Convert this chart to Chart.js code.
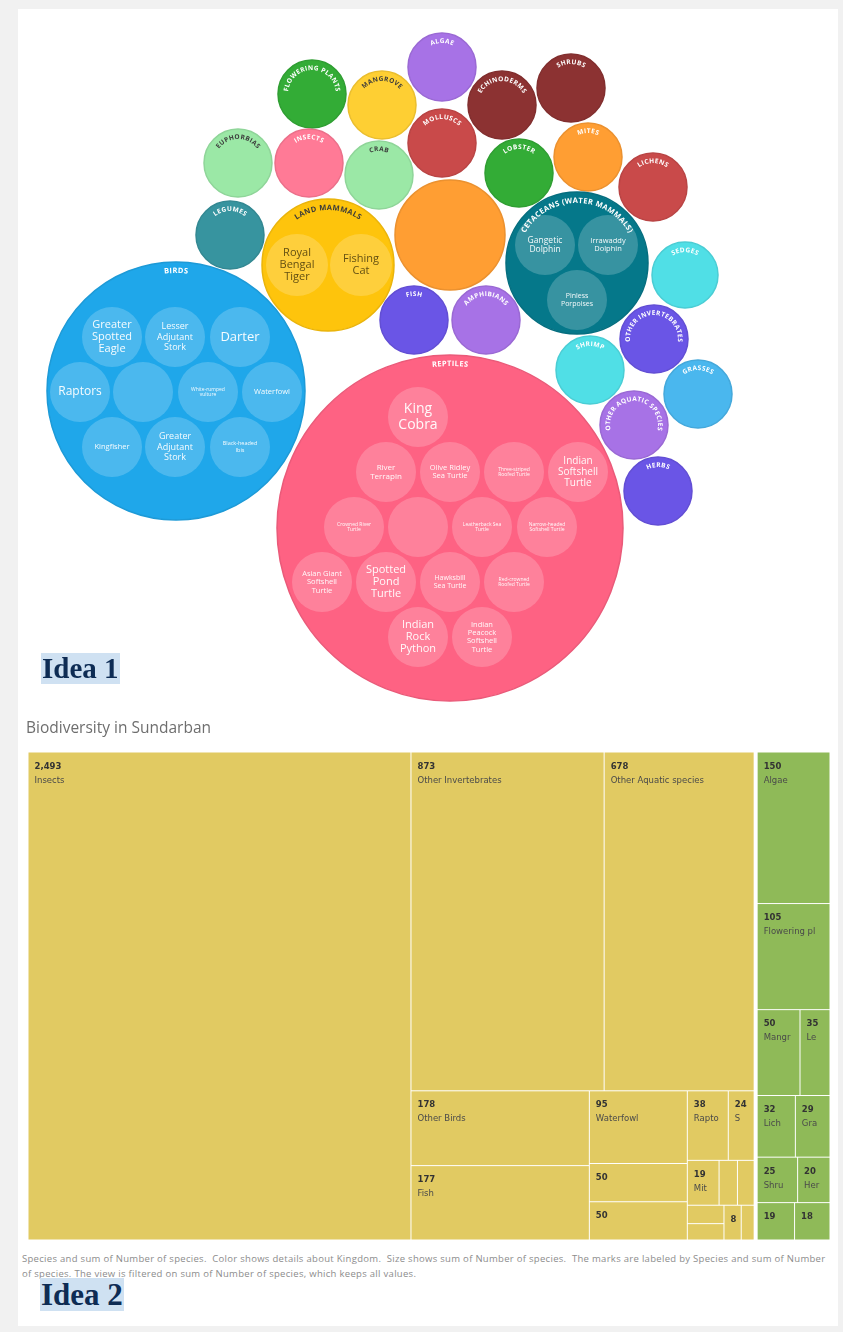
<!DOCTYPE html>
<html>
<head>
<meta charset="utf-8">
<script src="https://cdn.jsdelivr.net/npm/chart.js@4.4.0/dist/chart.umd.min.js"></script>
<style>
  html, body { margin: 0; padding: 0; }
  body { width: 843px; height: 1332px; background: #f1f1f1; position: relative; overflow: hidden; font-family: "Open Sans", sans-serif; }
  #sheet { position: absolute; left: 18px; top: 9px; width: 820px; height: 1317px; background: #fff; }
  #bubbles { position: absolute; left: 0; top: 0; }
  #treemap { position: absolute; left: 28px; top: 752px; }
  .idea { position: absolute; font-family: "Liberation Serif", serif; font-weight: bold; color: #0e2c54; background: #cfe1f2; padding: 0 1px; }
  #idea1 { left: 41px; top: 653px; font-size: 29px; line-height: 31px; }
  #idea2 { left: 40px; top: 1278px; font-size: 31px; line-height: 33px; }
  #title { position: absolute; left: 26px; top: 716px; font-size: 15.5px; line-height: 22px; color: #6e6e6e; }
  #footer { position: absolute; left: 22px; top: 1251px; font-size: 9.5px; line-height: 15px; color: #8c8c8c; white-space: pre; letter-spacing: 0.3px; }
</style>
</head>
<body>
<div id="sheet"></div>
<canvas id="bubbles" width="843" height="710"></canvas>
<div class="idea" id="idea1">Idea 1</div>
<div id="title">Biodiversity in Sundarban</div>
<canvas id="treemap" width="802" height="488"></canvas>
<div id="footer">Species and sum of Number of species.  Color shows details about Kingdom.  Size shows sum of Number of species.  The marks are labeled by Species and sum of Number
of species. The view is filtered on sum of Number of species, which keeps all values.</div>
<div class="idea" id="idea2">Idea 2</div>

<script>
// --- Idea 1: packed bubbles (centres and radii) ---
const groupNames = ['Algae', 'Flowering Plants', 'Mangrove', 'Echinoderms', 'Shrubs', 'Euphorbias', 'Insects', 'Crab',
  'Molluscs', 'Lobster', 'Mites', 'Lichens', 'Legumes', 'Land Mammals', '', 'Cetaceans (Water Mammals)', 'Sedges',
  'Fish', 'Amphibians', 'Other Invertebrates', 'Shrimp', 'Grasses', 'Other Aquatic Species', 'Herbs', 'Birds', 'Reptiles'];
const groupX = [442, 312, 382, 502, 571, 238, 309, 379, 442, 519, 588, 653, 230, 328, 450, 577, 685, 414, 486, 654, 590, 698, 634, 658, 176, 450];
const groupY = [67, 94, 105, 105, 88, 163, 163, 175, 143, 173, 157, 187, 235, 265, 235, 263, 275, 320, 320, 339, 370, 394, 425, 491, 391, 528];
const groupR = [34, 34, 34, 34, 34, 34, 34, 34, 34, 34, 34, 34, 34, 66, 55, 71, 33, 34, 34, 34, 34, 34, 34, 34, 129, 173];

const speciesNames = ['Greater Spotted Eagle', 'Lesser Adjutant Stork', 'Darter', 'Raptors', '', 'White-rumped vulture',
  'Waterfowl', 'Kingfisher', 'Greater Adjutant Stork', 'Black-headed Ibis',
  'King Cobra', 'River Terrapin', 'Olive Ridley Sea Turtle', 'Three-striped Roofed Turtle', 'Indian Softshell Turtle',
  'Crowned River Turtle', '', 'Leatherback Sea Turtle', 'Narrow-headed Softshell Turtle', 'Asian Giant Softshell Turtle',
  'Spotted Pond Turtle', 'Hawksbill Sea Turtle', 'Red-crowned Roofed Turtle', 'Indian Rock Python', 'Indian Peacock Softshell Turtle',
  'Gangetic Dolphin', 'Irrawaddy Dolphin', 'Pinless Porpoises',
  'Royal Bengal Tiger', 'Fishing Cat'];
const speciesX = [112, 175, 240, 80, 143, 208, 272, 112, 175, 240,
  418, 386, 450, 514, 578, 354, 418, 482, 547, 322, 386, 450, 514, 418, 482,
  545, 608, 577,
  297, 361];
const speciesY = [337, 337, 337, 392, 392, 392, 392, 447, 447, 447,
  417, 472, 472, 472, 472, 527, 527, 527, 527, 582, 582, 582, 582, 637, 637,
  245, 245, 300,
  265, 265];
const speciesR = [30, 30, 30, 30, 30, 30, 30, 30, 30, 30,
  30, 30, 30, 30, 30, 30, 30, 30, 30, 30, 30, 30, 30, 30, 30,
  30, 30, 30,
  31, 31];

// --- Idea 2: treemap ---
const tmSpecies = ['Insects', 'Other Invertebrates', 'Other Aquatic species', 'Other Birds', 'Fish', 'Waterfowl', 'Reptiles',
  'Mammals', 'Raptors', 'Shrimp', 'Mites', 'Crab', 'Molluscs', 'Lobster', 'Echinoderms', 'Amphibians', 'Cetaceans',
  'Algae', 'Flowering plants', 'Mangroves', 'Legumes', 'Lichens', 'Grasses', 'Shrubs', 'Herbs', 'Sedges', 'Euphorbias'];
const tmCount = [2493, 873, 678, 178, 177, 95, 50, 50, 38, 24, 19, 11, 10, 9, 8, 8, 6,
  150, 105, 50, 35, 32, 29, 25, 20, 19, 18];
const tmKingdom = ['Animal', 'Animal', 'Animal', 'Animal', 'Animal', 'Animal', 'Animal', 'Animal', 'Animal', 'Animal',
  'Animal', 'Animal', 'Animal', 'Animal', 'Animal', 'Animal', 'Animal',
  'Plant', 'Plant', 'Plant', 'Plant', 'Plant', 'Plant', 'Plant', 'Plant', 'Plant', 'Plant'];

// styles
const groupFill = ['#a772e6', '#33ac36', '#fecf33', '#8c3232', '#8c3232', '#9be8a6', '#ff7a96', '#9be8a6',
  '#c94a4a', '#33ac36', '#ff9e33', '#c94a4a', '#37949f', '#fec40c', '#ff9e33', '#05788a', '#50dfe6',
  '#6a55e6', '#a772e6', '#6a55e6', '#50dfe6', '#4ab7ee', '#a772e6', '#6a55e6', '#1fa7ea', '#fe6283'];
const darkLabels = ['Euphorbias', 'Crab', 'Mangrove', 'Land Mammals'];
const speciesFont = [11, 9, 13, 12, 0, 5, 7.5, 7.5, 9, 5.5,
  14, 8, 7.5, 5, 10, 5, 0, 5, 5, 7.5, 11, 7, 5, 11, 7.5,
  8.5, 7.5, 7,
  11, 11];
const kingdomFill = { Animal: '#e1ca62', Plant: '#8fba58' };

function shade(hex, f) {
  const n = parseInt(hex.slice(1), 16);
  const c = [n >> 16, (n >> 8) & 255, n & 255].map(v => Math.round(v * (1 - f)));
  return 'rgb(' + c.join(',') + ')';
}

function arcText(ctx, text, cx, cy, radius, size, color) {
  ctx.save();
  ctx.font = 'bold ' + size + 'px "Open Sans"';
  ctx.fillStyle = color;
  ctx.textAlign = 'center';
  ctx.textBaseline = 'alphabetic';
  const spacing = 0.35;
  let chars = [...text.toUpperCase()];
  const measure = cs => cs.reduce((s, ch) => s + ctx.measureText(ch).width + spacing, 0) - spacing;
  const maxLen = radius * Math.PI * 1.3;
  if (measure(chars) > maxLen) {
    while (chars.length && measure(chars.concat(['…'])) > maxLen) chars.pop();
    chars = chars.concat(['…']);
  }
  let ang = -Math.PI / 2 - measure(chars) / radius / 2;
  chars.forEach(ch => {
    const w = ctx.measureText(ch).width;
    const a = ang + w / 2 / radius;
    ctx.save();
    ctx.translate(cx + radius * Math.cos(a), cy + radius * Math.sin(a));
    ctx.rotate(a + Math.PI / 2);
    ctx.fillText(ch, 0, 0);
    ctx.restore();
    ang += (w + spacing) / radius;
  });
  ctx.restore();
}

function wrapLines(ctx, text, maxW) {
  const words = text.split(' ');
  const lines = [];
  let cur = '';
  words.forEach(w => {
    const t = cur ? cur + ' ' + w : w;
    if (cur && ctx.measureText(t).width > maxW) { lines.push(cur); cur = w; } else cur = t;
  });
  if (cur) lines.push(cur);
  return lines;
}

function speciesGroup(i) {
  if (i < 10) return 'Birds';
  if (i < 25) return 'Reptiles';
  if (i < 28) return 'Cetaceans (Water Mammals)';
  return 'Land Mammals';
}

const bubbleLabels = {
  id: 'bubbleLabels',
  afterDatasetsDraw(chart) {
    const ctx = chart.ctx, xs = chart.scales.x, ys = chart.scales.y;
    groupNames.forEach((name, i) => {
      if (!name) return;
      const cx = xs.getPixelForValue(groupX[i]), cy = ys.getPixelForValue(groupY[i]);
      const r = groupR[i];
      const size = r > 60 ? 7.5 : 6.5;
      const col = darkLabels.includes(name) ? '#3a3a3a' : '#ffffff';
      arcText(ctx, name, cx, cy, r - (r > 60 ? 11 : 10), size, col);
    });
    speciesNames.forEach((name, i) => {
      if (!name) return;
      const cx = xs.getPixelForValue(speciesX[i]), cy = ys.getPixelForValue(speciesY[i]);
      const fs = speciesFont[i];
      ctx.save();
      ctx.font = fs + 'px "Open Sans"';
      ctx.fillStyle = speciesGroup(i) === 'Land Mammals' ? 'rgba(70,56,10,0.85)' : 'rgba(255,255,255,0.95)';
      ctx.textAlign = 'center';
      ctx.textBaseline = 'middle';
      const lines = wrapLines(ctx, name, speciesR[i] * 1.35);
      const lh = fs * 1.12;
      lines.forEach((ln, k) => ctx.fillText(ln, cx, cy + (k - (lines.length - 1) / 2) * lh));
      ctx.restore();
    });
  }
};

new Chart(document.getElementById('bubbles'), {
  type: 'bubble',
  data: {
    datasets: [{
      // outer (group) bubbles, drawn underneath
      order: 1,
      data: groupX.map((x, i) => ({ x: x, y: groupY[i], r: groupR[i] })),
      backgroundColor: groupFill,
      borderColor: groupFill.map(c => shade(c, 0.08)),
      borderWidth: 1.5,
      clip: false
    }, {
      // nested species bubbles
      order: 0,
      data: speciesX.map((x, i) => ({ x: x, y: speciesY[i], r: speciesR[i] })),
      backgroundColor: 'rgba(255,255,255,0.2)',
      borderWidth: 0,
      clip: false
    }]
  },
  options: {
    responsive: false,
    animation: false,
    events: [],
    layout: { padding: 0, autoPadding: false },
    plugins: { legend: { display: false }, tooltip: { enabled: false } },
    scales: {
      x: { type: 'linear', min: 0, max: 843, display: false },
      y: { type: 'linear', min: 0, max: 710, reverse: true, display: false }
    }
  },
  plugins: [bubbleLabels]
});

// --- treemap layout (squarified, with a Tableau-like row rule on mean aspect) ---
const ROW_LIMIT = 2.56;

function rowAspect(row, side, unit) {
  const thick = row.reduce((s, d) => s + d.v, 0) * unit / side;
  let sum = 0;
  row.forEach(d => {
    const len = d.v * unit / thick;
    sum += Math.max(thick / len, len / thick);
  });
  return sum / row.length;
}

function squarify(items, x, y, w, h, out) {
  const total = items.reduce((s, d) => s + d.v, 0);
  const unit = w * h / total;
  let k = 0;
  while (k < items.length) {
    const side = Math.min(w, h);
    let row = [items[k++]];
    while (k < items.length) {
      const next = row.concat(items[k]);
      const a = rowAspect(next, side, unit), b = rowAspect(row, side, unit);
      if (a <= ROW_LIMIT || a < b) { row = next; k++; } else break;
    }
    const thick = row.reduce((s, d) => s + d.v, 0) * unit / side;
    let off = 0;
    const vertical = w >= h;
    row.forEach(d => {
      const len = d.v * unit / thick;
      if (vertical) out.push({ d: d, x: x, y: y + off, w: thick, h: len });
      else out.push({ d: d, x: x + off, y: y, w: len, h: thick });
      off += len;
    });
    if (vertical) { x += thick; w -= thick; } else { y += thick; h -= thick; }
  }
  return out;
}

const treemapCells = {
  id: 'treemapCells',
  beforeDatasetsDraw(chart) {
    const ctx = chart.ctx, xs = chart.scales.x, ys = chart.scales.y, area = chart.chartArea;
    const W = area.right - area.left, H = area.bottom - area.top;
    const kingdoms = [...new Set(tmKingdom)].map(k => ({
      k: k,
      v: tmCount.reduce((s, c, i) => s + (tmKingdom[i] === k ? c : 0), 0)
    })).sort((a, b) => b.v - a.v);
    const groups = squarify(kingdoms, 0, 0, W, H, []);
    groups.forEach(g => {
      const items = tmCount.map((v, i) => ({ i: i, v: v }))
        .filter(d => tmKingdom[d.i] === g.d.k)
        .sort((a, b) => b.v - a.v);
      const gap = 1.5;
      const gx = g.x + (g.x > 0 ? gap : 0);
      const gw = g.w - (g.x > 0 ? gap : 0) - (g.x + g.w < W - 1 ? gap : 0);
      const cells = squarify(items, gx, g.y, gw, g.h, []);
      cells.forEach(c => {
        const x0 = xs.getPixelForValue(c.x / W), x1 = xs.getPixelForValue((c.x + c.w) / W);
        const y0 = ys.getPixelForValue(c.y / H), y1 = ys.getPixelForValue((c.y + c.h) / H);
        const left = x0 + 0.5, top = y0 + 0.5, cw = x1 - x0 - 1, ch = y1 - y0 - 1;
        ctx.fillStyle = kingdomFill[g.d.k];
        ctx.fillRect(left, top, cw, ch);
        const i = c.d.i;
        ctx.save();
        ctx.textBaseline = 'alphabetic';
        ctx.font = 'bold 8.5px "DejaVu Sans"';
        const num = tmCount[i].toLocaleString('en-US');
        // a label is only shown when it fits in its cell
        if (ch >= 24 && ctx.measureText(num).width + 9 <= cw) {
          ctx.fillStyle = '#333333';
          ctx.fillText(num, left + 6, top + 16);
          if (ch >= 42) {
            ctx.font = '8.5px "DejaVu Sans"';
            let label = tmSpecies[i];
            while (label.length && ctx.measureText(label).width > cw - 15) label = label.slice(0, -1);
            ctx.fillStyle = '#4a4a4a';
            if (label.length) ctx.fillText(label, left + 6, top + 30);
          }
        }
        ctx.restore();
      });
    });
  }
};

new Chart(document.getElementById('treemap'), {
  type: 'scatter',
  data: { datasets: [] },
  options: {
    responsive: false,
    animation: false,
    events: [],
    layout: { padding: 0, autoPadding: false },
    plugins: { legend: { display: false }, tooltip: { enabled: false } },
    scales: {
      x: { type: 'linear', min: 0, max: 1, display: false },
      y: { type: 'linear', min: 0, max: 1, reverse: true, display: false }
    }
  },
  plugins: [treemapCells]
});
</script>
</body>
</html>
